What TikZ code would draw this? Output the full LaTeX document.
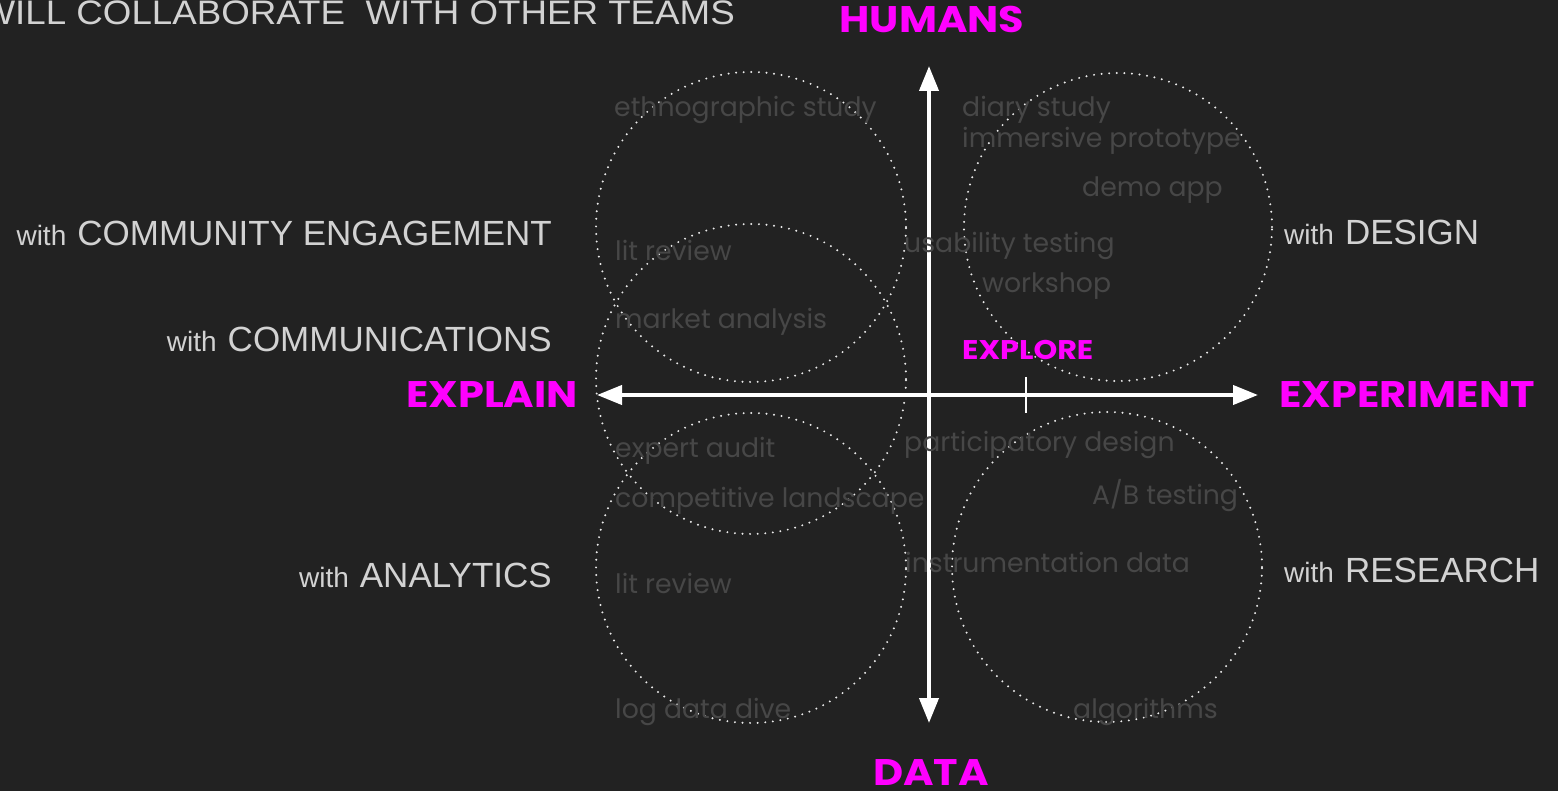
\documentclass[tikz,border=0pt]{standalone}
\usepackage{fontspec}
\setmainfont{Liberation Sans}
\newfontfamily\mont{Poppins}
\usetikzlibrary{arrows.meta}
\definecolor{bg}{HTML}{222222}
\definecolor{mag}{HTML}{FF00FF}
\definecolor{lbl}{HTML}{D2D2D2}
\definecolor{faint}{HTML}{474747}
\tikzset{
  ring/.style={circle, draw=white!92!black, line width=2.2pt, line cap=round,
    dash pattern=on 0pt off 7.6pt, minimum size=#1, inner sep=0pt},
  axis/.style={draw=white, line width=4pt, {Triangle[length=25pt,width=19pt]}-{Triangle[length=25pt,width=19pt]}},
  big/.style={text=mag, font=\mont\bfseries\fontsize{37}{40}\selectfont, inner sep=0pt, xscale=1.12},
  team/.style={text=lbl, inner sep=0pt, anchor=base east},
  method/.style={text=faint, font=\mont\fontsize{26.7}{30}\selectfont, inner sep=0pt, anchor=base west},
}
\newcommand{\withlbl}[1]{{\fontsize{28}{30}\selectfont with}\hspace{11pt}{\fontsize{35}{40}\selectfont #1}}
\begin{document}
\begin{tikzpicture}[x=1pt,y=-1pt]
\fill[bg] (0,0) rectangle (1558,791);
\useasboundingbox (0,0) rectangle (1558,791);

% title
\node[text=lbl, inner sep=0pt, anchor=base east, xscale=1.08, font=\fontsize{34}{38}\selectfont] (title) at (735,25) {WILL COLLABORATE\ \ WITH OTHER TEAMS};

% circles
\node[ring=310pt] (cA) at (751,227) {};
\node[ring=310pt] (cB) at (751,379) {};
\node[ring=310pt] (cC) at (751,568) {};
\node[ring=308pt] (cD) at (1118,227) {};
\node[ring=310pt] (cE) at (1107,567) {};

% axes
\coordinate (top) at (929,66);
\coordinate (bot) at (929,723);
\coordinate (lft) at (597,395);
\coordinate (rgt) at (1258,395);
\draw[axis] (top) -- (bot);
\draw[axis] (lft) -- (rgt);
\coordinate (tickT) at (1026,377);
\coordinate (tickB) at (1026,413);
\draw[white, line width=1.6pt] (tickT) -- (tickB);

% axis labels
\node[big, anchor=base] (humans) at (932,33) {HUMANS};
\node[big, anchor=base] (data) at (931,785) {DATA};
\node[big, anchor=base east] (explain) at (578,407) {EXPLAIN};
\node[big, anchor=base west] (experiment) at (1279,407) {EXPERIMENT};
\node[big, anchor=base west, font=\mont\bfseries\fontsize{27}{30}\selectfont] (explore) at (962,360) {EXPLORE};

% teams
\node[team] (t1) at (552,246) {\withlbl{COMMUNITY ENGAGEMENT}};
\node[team] (t2) at (552,352) {\withlbl{COMMUNICATIONS}};
\node[team] (t3) at (552,587) {\withlbl{ANALYTICS}};
\node[team, anchor=base west] (t4) at (1284,245) {\withlbl{DESIGN}};
\node[team, anchor=base west] (t5) at (1284,582) {\withlbl{RESEARCH}};

% methods
\node[method] (m1) at (614,117) {ethnographic study};
\node[method] (m2) at (615,261) {lit review};
\node[method] (m3) at (615,329) {market analysis};
\node[method] (m4) at (615,457) {expert audit};
\node[method] (m5) at (615,507) {competitive landscape};
\node[method] (m6) at (615,593) {lit review};
\node[method] (m7) at (615,718) {log data dive};
\node[method] (m8) at (962,117) {diary study};
\node[method] (m9) at (962,148) {immersive prototype};
\node[method] (m10) at (1082,197) {demo app};
\node[method] (m11) at (904,253) {usability testing};
\node[method] (m12) at (982,293) {workshop};
\node[method] (m13) at (904,451) {participatory design};
\node[method] (m14) at (1092,504) {A/B testing};
\node[method] (m15) at (905,572) {instrumentation data};
\node[method] (m16) at (1073,718) {algorithms};
\end{tikzpicture}
\end{document}
